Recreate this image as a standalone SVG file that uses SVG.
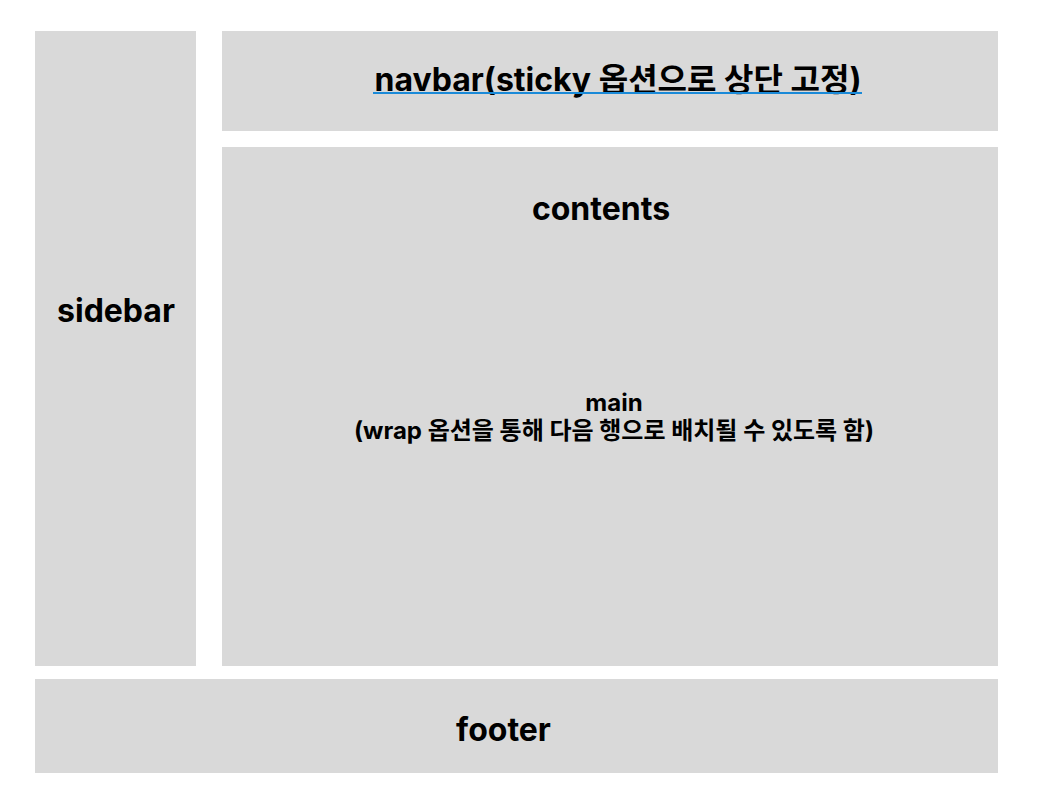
<svg xmlns="http://www.w3.org/2000/svg" width="1051" height="807" viewBox="0 0 1051 807">
<style>
.box{fill:#d9d9d9}
.t{font-family:Inter,"Noto Sans CJK KR",sans-serif;font-weight:700;fill:#000;text-anchor:middle}
.big{font-size:32px}
.small{font-size:24px}
</style>
<rect width="1051" height="807" fill="#fff"/>
<g id="sidebar"><rect class="box" x="35" y="31" width="161" height="635"/><text class="t big" x="116" y="322">sidebar</text></g>
<g id="navbar"><rect class="box" x="222" y="31" width="776" height="100"/><text class="t big" x="618" y="91">navbar(sticky 옵션으로 상단 고정)</text><line x1="373" y1="93" x2="862" y2="93" stroke="#1a8ad8" stroke-width="2"/></g>
<g id="contents"><rect class="box" x="222" y="147" width="776" height="519"/><text class="t big" x="601" y="220">contents</text><text class="t small" x="614" y="411">main</text><text class="t small" x="614" y="439">(wrap 옵션을 통해 다음 행으로 배치될 수 있도록 함)</text></g>
<g id="footer"><rect class="box" x="35" y="679" width="963" height="94"/><text class="t big" x="503.5" y="741">footer</text></g>
<g id="connectors"></g>
</svg>
